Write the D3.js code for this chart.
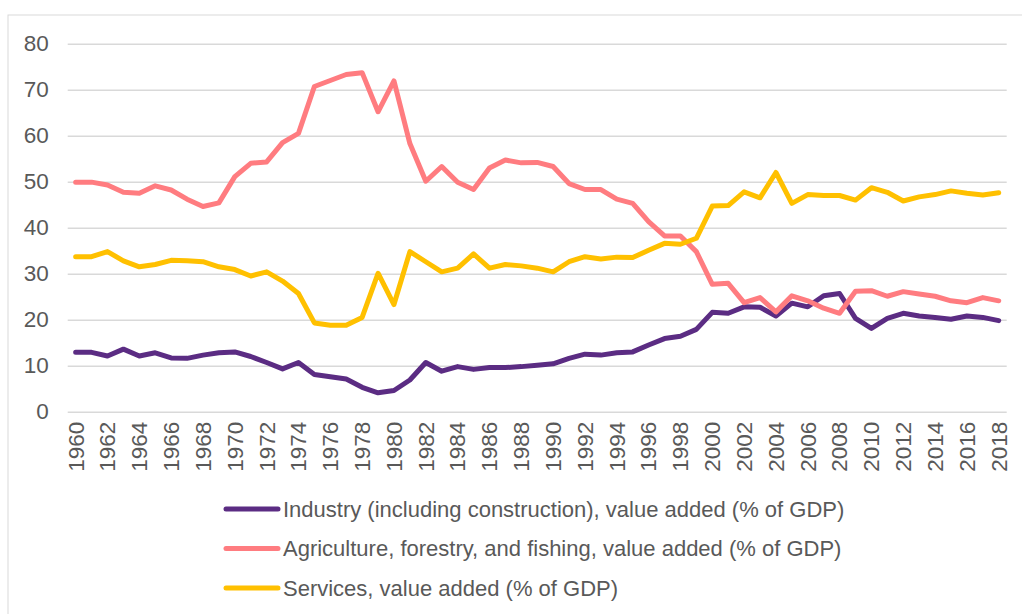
<!DOCTYPE html>
<html>
<head>
<meta charset="utf-8">
<script src="https://cdn.jsdelivr.net/npm/d3@7"></script>
<style>
  body { margin: 0; background: #fff; }
  text { font-family: "Liberation Sans", Arial, sans-serif; fill: #595959; }
</style>
</head>
<body>
<div id="chart-container"></div>
<script>
// values, one per year 1960..2018
const years = d3.range(1960, 2019);
const industry = [12.9, 12.9, 12.1, 13.6, 12.1, 12.8, 11.7, 11.6, 12.3, 12.8,
  13.0, 12.0, 10.7, 9.3, 10.7, 8.1, 7.6, 7.1, 5.3, 4.1,
  4.6, 6.9, 10.7, 8.8, 9.8, 9.2, 9.6, 9.6, 9.8, 10.1,
  10.4, 11.6, 12.5, 12.3, 12.8, 13.0, 14.5, 15.9, 16.4, 17.9,
  21.6, 21.4, 22.8, 22.7, 20.8, 23.6, 22.8, 25.2, 25.7, 20.3,
  18.1, 20.3, 21.4, 20.8, 20.5, 20.1, 20.8, 20.5, 19.8];
const agriculture = [49.9, 49.9, 49.3, 47.7, 47.5, 49.1, 48.2, 46.2, 44.6, 45.4,
  51.1, 54.0, 54.3, 58.5, 60.5, 70.7, 72.0, 73.3, 73.7, 65.2,
  71.9, 58.3, 50.1, 53.3, 49.9, 48.3, 53.0, 54.7, 54.1, 54.2,
  53.3, 49.6, 48.3, 48.3, 46.2, 45.3, 41.3, 38.2, 38.2, 34.8,
  27.7, 27.9, 23.7, 24.8, 21.7, 25.2, 24.1, 22.5, 21.4, 26.2,
  26.3, 25.1, 26.1, 25.6, 25.1, 24.1, 23.7, 24.8, 24.1];
const services = [33.7, 33.7, 34.8, 32.8, 31.5, 32.0, 32.9, 32.8, 32.6, 31.5,
  30.9, 29.5, 30.4, 28.4, 25.7, 19.3, 18.8, 18.8, 20.5, 30.1,
  23.3, 34.8, 32.6, 30.4, 31.2, 34.3, 31.2, 32.0, 31.7, 31.2,
  30.4, 32.6, 33.7, 33.2, 33.6, 33.5, 35.1, 36.6, 36.4, 37.7,
  44.7, 44.8, 47.8, 46.5, 52.0, 45.3, 47.2, 47.0, 47.0, 46.0,
  48.7, 47.7, 45.8, 46.7, 47.2, 48.0, 47.5, 47.1, 47.6];
const yTicks = [0, 10, 20, 30, 40, 50, 60, 70, 80];
const seriesNames = [
  "Industry (including construction), value added (% of GDP)",
  "Agriculture, forestry, and fishing, value added (% of GDP)",
  "Services, value added (% of GDP)"
];
const seriesColors = ["#5b2c83", "#ff7c80", "#ffc000"];

const svgWidth = 1022;
const svgHeight = 614;
const margin = { top: 43.7, right: 15.3, bottom: 202.3, left: 67.7 };
const width = svgWidth - margin.left - margin.right;
const height = svgHeight - margin.top - margin.bottom;

const svgRoot = d3.select("#chart-container")
    .append("svg")
    .attr("width", svgWidth)
    .attr("height", svgHeight);

// chart frame (right/bottom edges run off the picture)
svgRoot.append("rect")
    .attr("x", 8).attr("y", 15)
    .attr("width", 1030).attr("height", 620)
    .attr("fill", "none")
    .attr("stroke", "#d9d9d9")
    .attr("stroke-width", 1);

const svg = svgRoot.append("g")
    .attr("transform", `translate(${margin.left},${margin.top})`);

const x = d3.scaleBand().domain(years).range([0, width]);
const y = d3.scaleLinear().domain([0, 80]).range([height, 0]);

// gridlines + y labels
const yAxis = svg.append("g")
    .call(d3.axisLeft(y).tickValues(yTicks).tickSize(-width).tickPadding(19));
yAxis.select(".domain").remove();
yAxis.selectAll(".tick line").attr("stroke", "#d9d9d9").attr("stroke-width", 1.5);
yAxis.selectAll(".tick text").attr("font-size", 22.5).attr("fill", "#595959");

// x labels, every other year, rotated
const xAxis = svg.append("g")
    .attr("transform", `translate(0,${height})`)
    .call(d3.axisBottom(x).tickValues(years.filter(d => d % 2 === 0)).tickSize(0));
xAxis.select(".domain").remove();
xAxis.selectAll(".tick text")
    .attr("font-size", 22.5)
    .attr("fill", "#595959")
    .attr("transform", "rotate(-90)")
    .attr("text-anchor", "end")
    .attr("x", -10)
    .attr("y", 0)
    .attr("dy", "0.35em");

const cx = d => x(d) + x.bandwidth() / 2;
const line = d3.line()
    .x((d, i) => cx(years[i]))
    .y(d => y(d));

[industry, agriculture, services].forEach(function(vals, k) {
    svg.append("path")
        .datum(vals)
        .attr("fill", "none")
        .attr("stroke", seriesColors[k])
        .attr("stroke-width", 5)
        .attr("stroke-linejoin", "round")
        .attr("stroke-linecap", "round")
        .attr("d", line);
});

// legend
const legend = svgRoot.append("g");
seriesNames.forEach(function(name, k) {
    const ly = 509 + k * 39.5;
    legend.append("line")
        .attr("x1", 226).attr("x2", 278)
        .attr("y1", ly).attr("y2", ly)
        .attr("stroke", seriesColors[k])
        .attr("stroke-width", 5)
        .attr("stroke-linecap", "round");
    legend.append("text")
        .attr("x", 283).attr("y", ly)
        .attr("dy", "0.35em")
        .attr("font-size", 22)
        .text(name);
});
</script>
</body>
</html>
